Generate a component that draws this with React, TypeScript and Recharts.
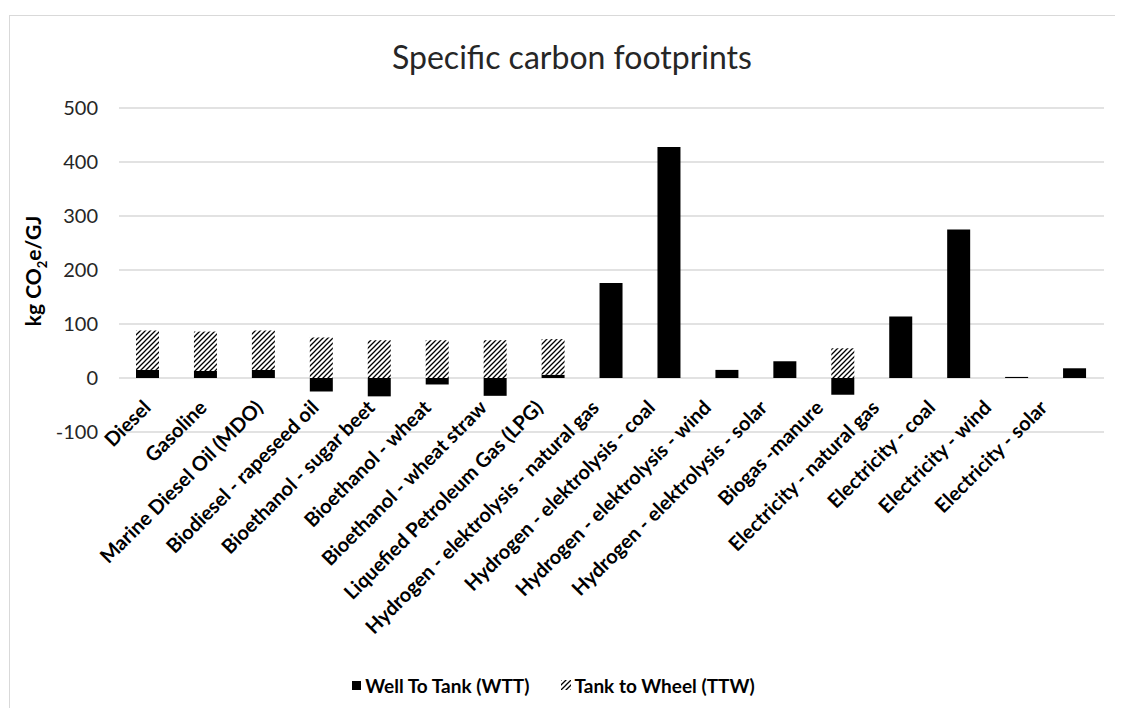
import React from 'react';
import { Bar, BarChart, CartesianGrid, Legend, XAxis, YAxis } from 'recharts';

const categories = [
  'Diesel',
  'Gasoline',
  'Marine Diesel Oil (MDO)',
  'Biodiesel - rapeseed oil',
  'Bioethanol - sugar beet',
  'Bioethanol - wheat',
  'Bioethanol - wheat straw',
  'Liquefied Petroleum Gas (LPG)',
  'Hydrogen - elektrolysis - natural gas',
  'Hydrogen - elektrolysis - coal',
  'Hydrogen - elektrolysis - wind',
  'Hydrogen - elektrolysis - solar',
  'Biogas -manure',
  'Electricity - natural gas',
  'Electricity - coal',
  'Electricity - wind',
  'Electricity - solar',
];

const wttValues = [15, 13, 15, -25, -34, -12, -33, 6, 176, 428, 15, 31, -31, 114, 275, 2, 18];
const ttwValues = [73, 73, 73, 75, 70, 70, 70, 66, 0, 0, 0, 0, 55, 0, 0, 0, 0];

const yTicks = [-100, 0, 100, 200, 300, 400, 500];

const chartData = categories.map((name, i) => ({
  name,
  wtt: wttValues[i],
  ttw: ttwValues[i],
}));

const FONT = 'Lato, "Open Sans", sans-serif';

// excel lays the rotated labels out a little tighter than the bars, so they drift left
const CategoryTick = (props: any) => {
  const { x, y, payload, index } = props;
  const tx = x + 4 - 1.9 * (index || 0);
  const ty = y - 23;
  return (
    <text
      x={tx}
      y={ty}
      transform={`rotate(-45 ${tx} ${ty})`}
      textAnchor="end"
      fontFamily={FONT}
      fontWeight="bold"
      fontSize={20}
      fill="#000"
    >
      {payload.value}
    </text>
  );
};

const HatchDefs = ({ id }: { id: string }) => (
  <defs>
    <pattern id={id} width={5} height={5} patternUnits="userSpaceOnUse">
      <rect width={5} height={5} fill="#fff" />
      <path d="M0,5 L5,0 M-1,1 L1,-1 M4,6 L6,4" stroke="#000" strokeWidth={1.3} />
    </pattern>
  </defs>
);

const LegendContent = () => (
  <div
    style={{
      height: 28,
      display: 'flex',
      justifyContent: 'center',
      alignItems: 'center',
      fontFamily: FONT,
      fontWeight: 'bold',
      fontSize: 19,
      color: '#000',
      paddingRight: 36,
    }}
  >
    <svg width={9} height={9} style={{ marginRight: 4 }}>
      <rect width={9} height={9} fill="#000" />
    </svg>
    <span style={{ marginRight: 32 }}>Well To Tank (WTT)</span>
    <svg width={10} height={10} style={{ marginRight: 3 }}>
      <HatchDefs id="hatchLegend" />
      <rect width={10} height={10} fill="url(#hatchLegend)" />
    </svg>
    <span>Tank to Wheel (TTW)</span>
  </div>
);

export default function App() {
  return (
    <div
      style={{
        position: 'relative',
        top: 7,
        left: 1,
        width: 1114,
        height: 699,
        borderTop: '1px solid #d9d9d9',
        borderLeft: '1px solid #d9d9d9',
      }}
    >
      <div
        style={{
          position: 'absolute',
          left: 0,
          top: 23,
          width: 1124,
          height: 36,
          lineHeight: '36px',
          textAlign: 'center',
          fontFamily: FONT,
          fontSize: 32,
          color: '#262626',
        }}
      >
        Specific carbon footprints
      </div>
      <div
        style={{
          position: 'absolute',
          left: 25,
          top: 255,
          transform: 'translate(-50%, -50%) rotate(-90deg)',
          whiteSpace: 'nowrap',
          fontFamily: FONT,
          fontWeight: 'bold',
          fontSize: 21,
          color: '#000',
        }}
      >
        kg CO<sub style={{ fontSize: 13 }}>2</sub>e/GJ
      </div>
      <div style={{ position: 'absolute', left: 0, top: 0 }}>
        <BarChart
          width={1113}
          height={699}
          data={chartData}
          stackOffset="sign"
          barSize={23}
          margin={{ top: 92, right: 19, bottom: 16, left: 29 }}
        >
          <HatchDefs id="hatchTTW" />
          <CartesianGrid vertical={false} stroke="#d9d9d9" strokeWidth={1.5} />
          <XAxis
            dataKey="name"
            interval={0}
            axisLine={false}
            tickLine={false}
            tickSize={0}
            tickMargin={0}
            height={239}
            tick={<CategoryTick />}
          />
          <YAxis
            domain={[-100, 500]}
            ticks={yTicks}
            width={80}
            axisLine={false}
            tickLine={false}
            tickSize={0}
            tickMargin={21}
            tick={{ fontFamily: FONT, fontSize: 20, fill: '#262626' }}
          />
          <Legend verticalAlign="bottom" content={<LegendContent />} />
          <Bar dataKey="wtt" stackId="a" fill="#000" isAnimationActive={false} />
          <Bar dataKey="ttw" stackId="a" fill="url(#hatchTTW)" isAnimationActive={false} />
        </BarChart>
      </div>
    </div>
  );
}
